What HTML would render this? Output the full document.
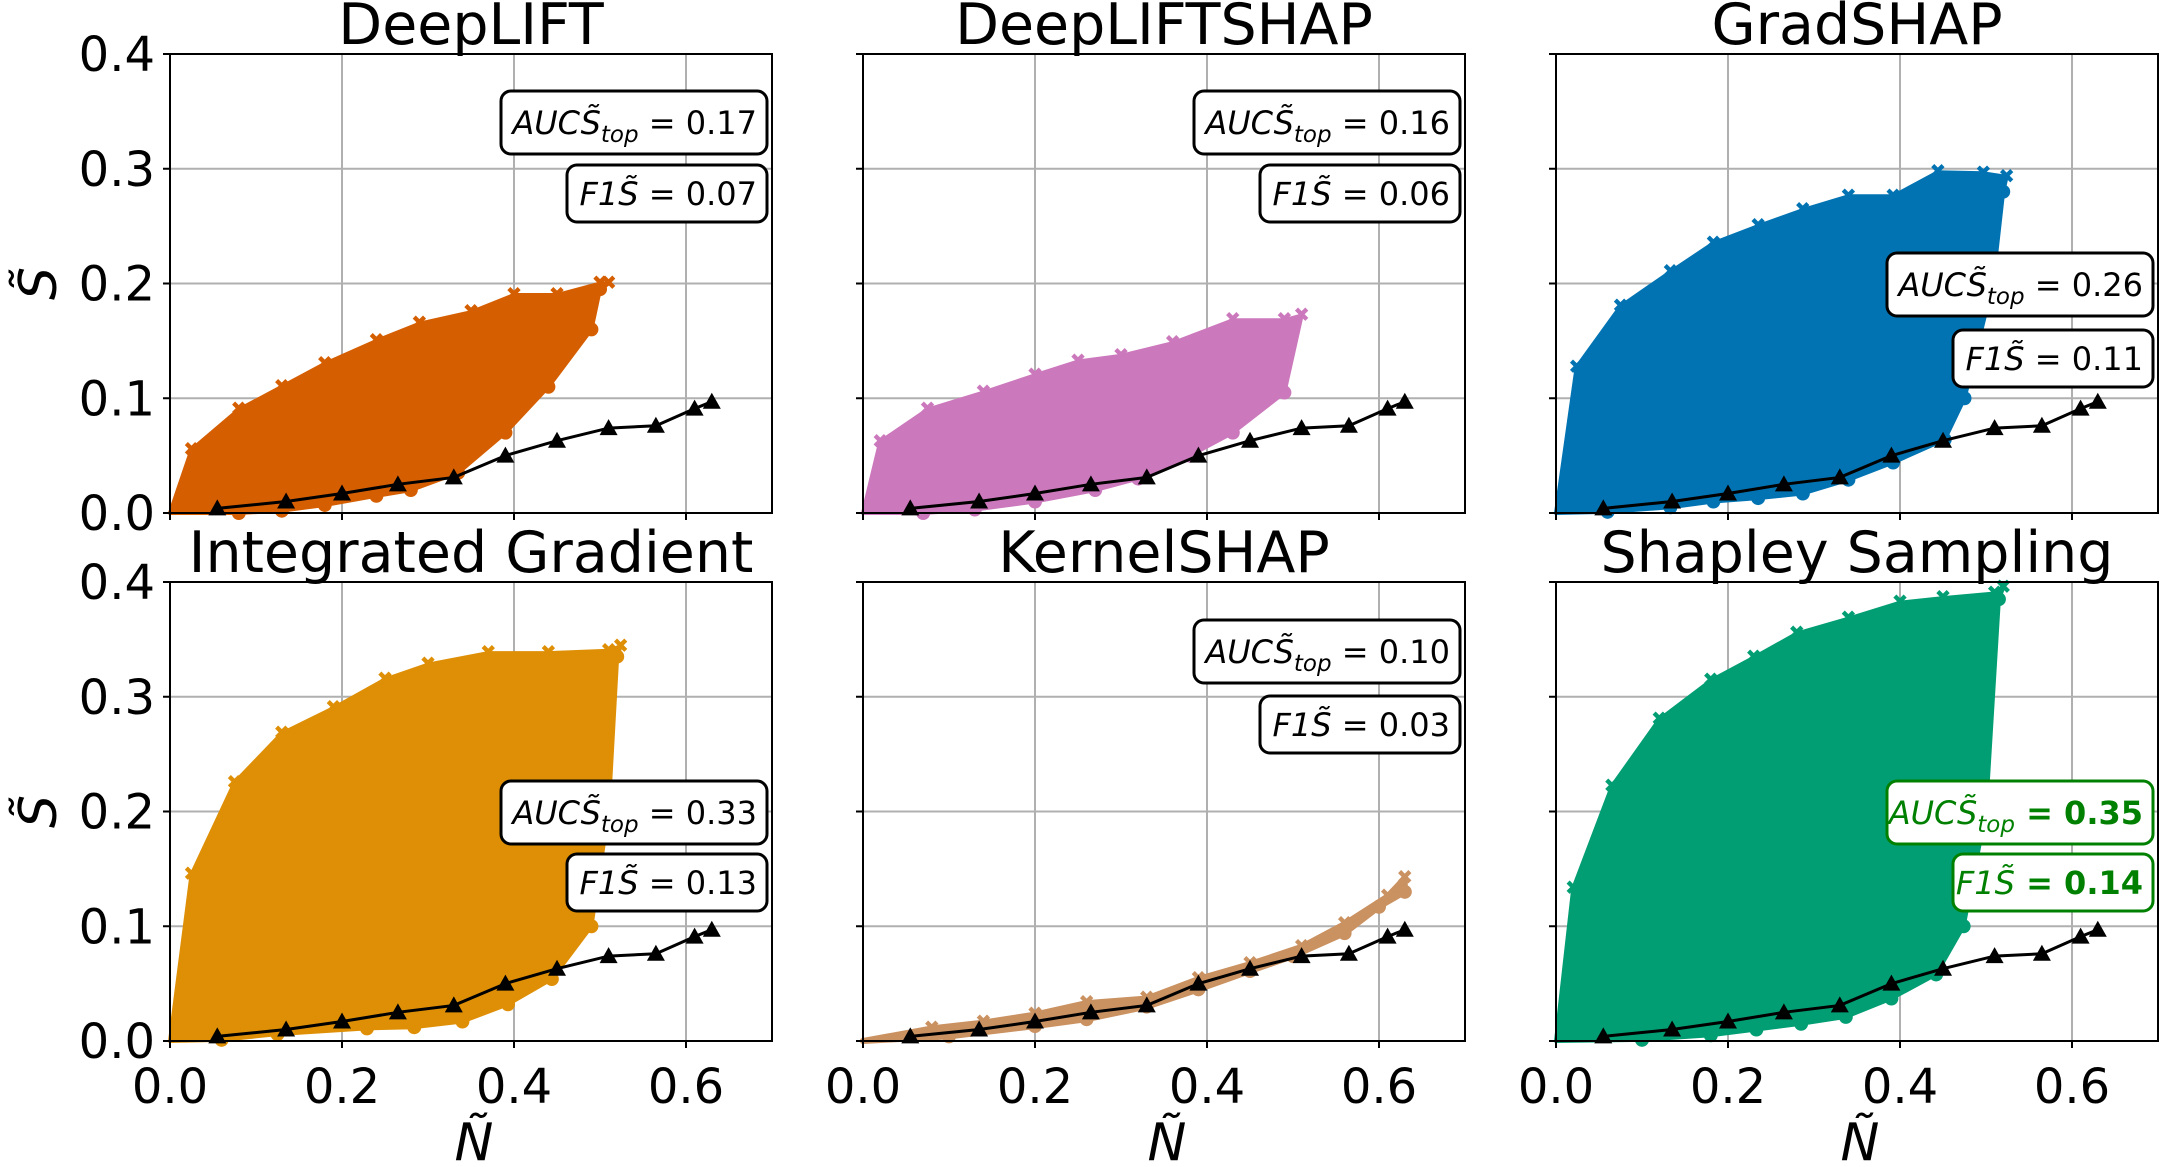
<!DOCTYPE html>
<html><head><meta charset="utf-8"><style>
html,body{margin:0;padding:0;background:#fff;}
svg{display:block;font-family:"DejaVu Sans","Liberation Sans",sans-serif;}
</style></head><body>
<svg id="s" width="2161" height="1167" viewBox="0 0 2161 1167" xmlns="http://www.w3.org/2000/svg"></svg>
<script>
const NS="http://www.w3.org/2000/svg";
const svg=document.getElementById('s');
function el(t,a,txt){const e=document.createElementNS(NS,t);for(const k in a)e.setAttribute(k,a[k]);if(txt!==undefined)e.textContent=txt;svg.appendChild(e);return e;}
const cols=[170,863,1556], rows=[54,582], W=602, H=459, SX=860, SY=1147.5;
const base=[[0.055,0.004],[0.135,0.01],[0.2,0.017],[0.265,0.025],[0.33,0.031],[0.39,0.05],[0.45,0.063],[0.51,0.074],[0.565,0.076],[0.61,0.091],[0.63,0.097]];
const panels=[
{t:"DeepLIFT",c:"#d55e00",auc:"0.17",f1:"0.07",ay:91,fy:165,
 up:[[0,0],[0.025,0.055],[0.08,0.09],[0.13,0.11],[0.18,0.13],[0.24,0.15],[0.29,0.165],[0.35,0.175],[0.4,0.19],[0.45,0.19],[0.5,0.2],[0.51,0.2]],
 lo:[[0.5,0.195],[0.49,0.16],[0.44,0.11],[0.39,0.07],[0.335,0.035],[0.28,0.02],[0.24,0.015],[0.18,0.007],[0.13,0.002],[0.08,0]]},
{t:"DeepLIFTSHAP",c:"#cc78bc",auc:"0.16",f1:"0.06",ay:91,fy:165,
 up:[[0,0],[0.02,0.062],[0.075,0.09],[0.14,0.105],[0.2,0.12],[0.25,0.132],[0.3,0.137],[0.36,0.148],[0.43,0.168],[0.49,0.168],[0.51,0.172]],
 lo:[[0.49,0.105],[0.43,0.07],[0.38,0.05],[0.32,0.03],[0.27,0.02],[0.2,0.01],[0.13,0.003],[0.07,0]]},
{t:"GradSHAP",c:"#0173b2",auc:"0.26",f1:"0.11",ay:253,fy:330,
 up:[[0,0],[0.024,0.127],[0.075,0.18],[0.133,0.21],[0.183,0.235],[0.235,0.25],[0.287,0.264],[0.34,0.276],[0.392,0.276],[0.444,0.297],[0.497,0.296],[0.524,0.293]],
 lo:[[0.52,0.28],[0.508,0.2],[0.475,0.1],[0.452,0.064],[0.392,0.044],[0.34,0.029],[0.287,0.017],[0.235,0.013],[0.183,0.01],[0.133,0.005],[0.06,0.001]]},
{t:"Integrated Gradient",c:"#de8f05",auc:"0.33",f1:"0.13",ay:781,fy:854,
 up:[[0,0],[0.025,0.145],[0.075,0.225],[0.13,0.268],[0.19,0.29],[0.25,0.315],[0.3,0.328],[0.37,0.338],[0.44,0.338],[0.51,0.34],[0.524,0.344]],
 lo:[[0.52,0.335],[0.51,0.2],[0.49,0.1],[0.444,0.054],[0.393,0.032],[0.34,0.017],[0.284,0.012],[0.229,0.011],[0.125,0.006],[0.06,0.001]]},
{t:"KernelSHAP",c:"#ca9161",auc:"0.10",f1:"0.03",ay:620,fy:696,
 up:[[0,0],[0.08,0.011],[0.14,0.016],[0.2,0.023],[0.26,0.033],[0.33,0.037],[0.39,0.054],[0.45,0.067],[0.51,0.082],[0.56,0.102],[0.61,0.126],[0.63,0.142]],
 lo:[[0.63,0.13],[0.6,0.117],[0.56,0.094],[0.5,0.074],[0.45,0.061],[0.39,0.045],[0.33,0.03],[0.26,0.019],[0.2,0.013],[0.1,0.004]]},
{t:"Shapley Sampling",c:"#029e73",auc:"0.35",f1:"0.14",ay:781,fy:854,g:1,
 up:[[0,0],[0.02,0.133],[0.065,0.222],[0.12,0.28],[0.18,0.314],[0.23,0.334],[0.28,0.355],[0.34,0.368],[0.4,0.382],[0.45,0.386],[0.51,0.39],[0.52,0.395]],
 lo:[[0.515,0.385],[0.5,0.2],[0.474,0.1],[0.442,0.058],[0.39,0.037],[0.337,0.021],[0.285,0.015],[0.233,0.01],[0.18,0.005],[0.1,0.001]]}
];
panels.forEach((p,i)=>{
 const x0=cols[i%3], y0=rows[Math.floor(i/3)], yb=y0+H;
 const X=v=>x0+v*SX, Y=v=>yb-v*SY;
 [0.2,0.4,0.6].forEach(v=>el('line',{x1:X(v),x2:X(v),y1:y0,y2:yb,stroke:'#b0b0b0','stroke-width':2}));
 [0.1,0.2,0.3].forEach(v=>el('line',{x1:x0,x2:x0+W,y1:Y(v),y2:Y(v),stroke:'#b0b0b0','stroke-width':2}));
 const pts=p.up.concat(p.lo).concat([[0,0]]).map(q=>X(q[0]).toFixed(1)+','+Y(q[1]).toFixed(1)).join(' ');
 el('polygon',{points:pts,fill:p.c,stroke:p.c,'stroke-width':i==4?6:4,'stroke-linejoin':'round'});
 p.up.slice(1).forEach(q=>el('text',{x:X(q[0]),y:Y(q[1])+6,'font-size':20,'font-weight':'bold',fill:p.c,'text-anchor':'middle'},'✖'));
 p.lo.forEach(q=>el('circle',{cx:X(q[0]),cy:Y(q[1]),r:7,fill:p.c}));
 el('polyline',{points:base.map(q=>X(q[0])+','+Y(q[1])).join(' '),fill:'none',stroke:'#000','stroke-width':3});
 base.forEach(q=>{const cx=X(q[0]),cy=Y(q[1]);el('polygon',{points:`${cx},${cy-9} ${cx-9},${cy+7} ${cx+9},${cy+7}`,fill:'#000'});});
 el('rect',{x:x0,y:y0,width:W,height:H,fill:'none',stroke:'#000','stroke-width':2});
 [0,0.2,0.4,0.6].forEach(v=>el('line',{x1:X(v),x2:X(v),y1:yb,y2:yb+7,stroke:'#000','stroke-width':2}));
 [0,0.1,0.2,0.3,0.4].forEach(v=>el('line',{x1:x0-7,x2:x0,y1:Y(v),y2:Y(v),stroke:'#000','stroke-width':2}));
 if(i%3==0)[0,0.1,0.2,0.3,0.4].forEach(v=>el('text',{x:x0-15,y:Y(v)+17,'font-size':48,'text-anchor':'end'},v.toFixed(1)));
 if(i>=3){[0,0.2,0.4,0.6].forEach(v=>el('text',{x:X(v),y:yb+62,'font-size':48,'text-anchor':'middle'},v.toFixed(1)));
  el('text',{x:x0+W/2+3,y:1160,'font-size':52,'font-style':'italic','text-anchor':'middle'},'Ñ');}
 if(i%3==0)el('text',{x:0,y:0,'font-size':52,'font-style':'italic','text-anchor':'middle',transform:`translate(56,${y0+H/2}) rotate(-90)`},'S̃');
 el('text',{x:x0+W/2,y:y0-10,'font-size':57,'text-anchor':'middle'},p.t);
 const col=p.g?'#008000':'#000', R=x0+597;
 el('rect',{x:R-266,y:p.ay,width:266,height:63,rx:10,fill:'#fff',stroke:col,'stroke-width':3});
 const t1=el('text',{x:R-10,y:p.ay+43,'font-size':32,'text-anchor':'end',fill:col});
 t1.innerHTML=`<tspan font-style="italic">AUCS̃</tspan><tspan font-style="italic" font-size="23" dy="8">top</tspan><tspan dy="-8"${p.g?' font-weight="bold"':''}> = ${p.auc}</tspan>`;
 el('rect',{x:R-200,y:p.fy,width:200,height:57,rx:10,fill:'#fff',stroke:col,'stroke-width':3});
 const t2=el('text',{x:R-10,y:p.fy+40,'font-size':32,'text-anchor':'end',fill:col});
 t2.innerHTML=`<tspan font-style="italic">F1S̃</tspan><tspan${p.g?' font-weight="bold"':''}> = ${p.f1}</tspan>`;
});
</script>
</body></html>
